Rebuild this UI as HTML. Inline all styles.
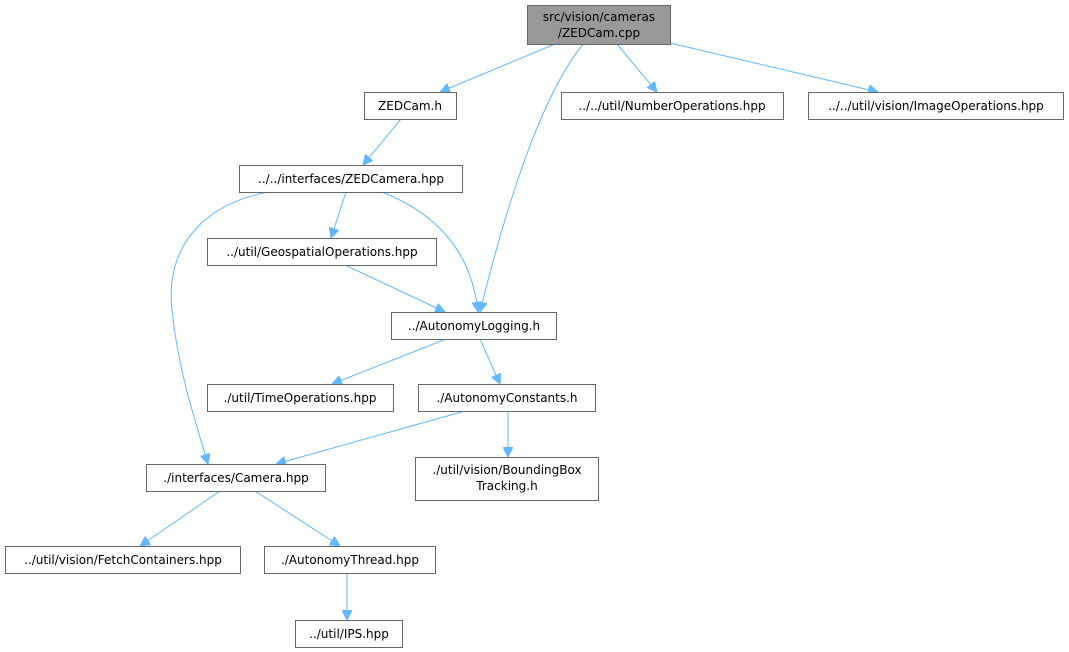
<!DOCTYPE html>
<html><head><meta charset="utf-8"><style>
html,body{margin:0;padding:0;background:#fff;}
svg{display:block;}
text{font-family:"DejaVu Sans","Liberation Sans",sans-serif;font-size:12px;fill:#000;}
</style></head><body>
<svg width="1069" height="652" viewBox="0 0 1069 652" xmlns="http://www.w3.org/2000/svg">
<defs><marker id="a" viewBox="0 0 10 10" refX="10" refY="5" markerWidth="10" markerHeight="10" markerUnits="userSpaceOnUse" orient="auto"><path d="M0,0 L10,5 L0,10 z" fill="#63b8ff" stroke="#63b8ff"/></marker></defs>
<g fill="none" stroke="#63b8ff" stroke-width="1" marker-end="url(#a)">
<path d="M555,44 L440,92"/>
<path d="M583,44 C550,85 515,170 480,312"/>
<path d="M617,44 L657,92"/>
<path d="M670,43 L878,92"/>
<path d="M401,119 L363,165"/>
<path d="M346,192 L331,238"/>
<path d="M382,192 C440,215 472,255 478,312"/>
<path d="M268,192 C200,205 165,250 172,310 C178,370 195,420 208,464"/>
<path d="M345,265 L445,312"/>
<path d="M446,339 L332,384"/>
<path d="M480,339 L500,384"/>
<path d="M465,411 L276,464"/>
<path d="M508,411 L508,457"/>
<path d="M220,491 L140,546"/>
<path d="M255,491 L340,546"/>
<path d="M347,573 L347,620"/>
</g>
<g stroke="#666" stroke-width="1" fill="#fff">
<rect x="527.5" y="5.5" width="143" height="39" fill="#999"/>
<rect x="364.5" y="92.5" width="92" height="27"/>
<rect x="561.5" y="92.5" width="222" height="27"/>
<rect x="808.5" y="92.5" width="255" height="27"/>
<rect x="239.5" y="165.5" width="223" height="27"/>
<rect x="207.5" y="238.5" width="229" height="27"/>
<rect x="391.5" y="312.5" width="165" height="27"/>
<rect x="207.5" y="384.5" width="186" height="27"/>
<rect x="418.5" y="384.5" width="177" height="27"/>
<rect x="415.5" y="457.5" width="183" height="43"/>
<rect x="146.5" y="464.5" width="179" height="27"/>
<rect x="5.5" y="546.5" width="235" height="27"/>
<rect x="264.5" y="546.5" width="171" height="27"/>
<rect x="295.5" y="620.5" width="107" height="27"/>
</g>
<g text-anchor="middle">
<text x="599" y="21">src/vision/cameras</text>
<text x="599" y="37">/ZEDCam.cpp</text>
<text x="410" y="110">ZEDCam.h</text>
<text x="672" y="110">../../util/NumberOperations.hpp</text>
<text x="936" y="110">../../util/vision/ImageOperations.hpp</text>
<text x="351" y="183">../../interfaces/ZEDCamera.hpp</text>
<text x="322" y="256">../util/GeospatialOperations.hpp</text>
<text x="474" y="330">../AutonomyLogging.h</text>
<text x="300" y="402">./util/TimeOperations.hpp</text>
<text x="507" y="402">./AutonomyConstants.h</text>
<text x="507" y="474">./util/vision/BoundingBox</text>
<text x="507" y="490">Tracking.h</text>
<text x="236" y="482">./interfaces/Camera.hpp</text>
<text x="123" y="564">../util/vision/FetchContainers.hpp</text>
<text x="350" y="564">./AutonomyThread.hpp</text>
<text x="349" y="638">../util/IPS.hpp</text>
</g>
</svg>
</body></html>
